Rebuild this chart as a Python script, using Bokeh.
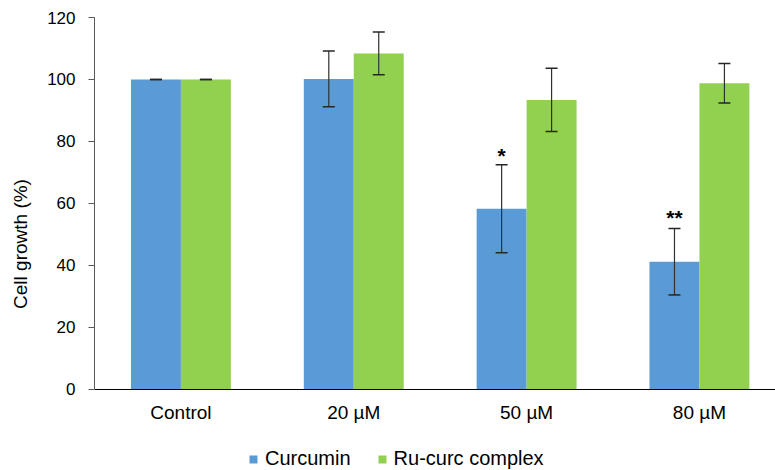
from bokeh.plotting import figure
from bokeh.models import (ColumnDataSource, Whisker, TeeHead, FixedTicker, Range1d,
                          Legend, LegendItem, LinearAxis)
from bokeh.core.properties import value
from bokeh.embed import file_html
from bokeh.resources import INLINE

categories = ["Control", "20 µM", "50 µM", "80 µM"]
curcumin = [100.0, 100.2, 58.3, 41.2]
curcumin_err = [0.0, 9.0, 14.2, 10.7]
rucurc = [100.0, 108.4, 93.4, 98.8]
rucurc_err = [0.0, 6.9, 10.2, 6.4]
sig_labels = ["", "", "*", "**"]
sig_y = [0, 0, 75.5, 55.5]
y_ticks = [0, 20, 40, 60, 80, 100, 120]

FONT = "Liberation Sans"
BLUE = "#5B9BD5"
GREEN = "#92D050"
bw = 0.289
off = bw / 2

idx = list(range(len(categories)))
src_c = ColumnDataSource(dict(
    x=[i - off for i in idx], top=curcumin,
    upper=[v + e for v, e in zip(curcumin, curcumin_err)],
    lower=[v - e for v, e in zip(curcumin, curcumin_err)]))
src_r = ColumnDataSource(dict(
    x=[i + off for i in idx], top=rucurc,
    upper=[v + e for v, e in zip(rucurc, rucurc_err)],
    lower=[v - e for v, e in zip(rucurc, rucurc_err)]))
src_s = ColumnDataSource(dict(x=[i - off for i in idx], y=sig_y, t=sig_labels))

# frame runs to the bottom edge; the x axis is pinned at y = 0
p = figure(width=775, height=470, output_backend="svg", toolbar_location=None,
           x_range=Range1d(-0.5, 3.44), y_range=Range1d(-26.13, 120),
           x_axis_location=None,
           min_border_left=94, min_border_right=0, min_border_top=17,
           min_border_bottom=0)
p.outline_line_color = None
p.xgrid.visible = False
p.ygrid.visible = False
p.background_fill_color = "white"
p.border_fill_color = "white"

r1 = p.vbar(x="x", top="top", width=bw, source=src_c, fill_color=BLUE, line_color=None)
r2 = p.vbar(x="x", top="top", width=bw, source=src_r, fill_color=GREEN, line_color=None)

for s in (src_c, src_r):
    w = Whisker(base="x", upper="upper", lower="lower", source=s, level="overlay",
                line_color="#303030", line_width=1.2,
                upper_head=TeeHead(size=12, line_color="#262626", line_width=1.5),
                lower_head=TeeHead(size=12, line_color="#262626", line_width=1.5))
    p.add_layout(w)

p.text(x="x", y="y", text="t", source=src_s, text_align="center",
       text_baseline="middle", text_font=value(FONT), text_font_size="21px",
       text_font_style="bold", text_color="black")

# y axis
p.yaxis.ticker = FixedTicker(ticks=y_ticks)
p.yaxis.bounds = (0, 120)
p.yaxis.axis_label = "Cell growth (%)"
p.yaxis.axis_label_text_font = FONT
p.yaxis.axis_label_text_font_size = "19px"
p.yaxis.axis_label_text_font_style = "normal"
p.yaxis.axis_label_text_color = "black"
p.yaxis.axis_label_standoff = 13
p.yaxis.major_label_text_font = FONT
p.yaxis.major_label_text_font_size = "17px"
p.yaxis.major_label_text_color = "black"
p.yaxis.major_label_standoff = 13
p.yaxis.major_tick_out = 6
p.yaxis.major_tick_in = 0
p.yaxis.minor_tick_line_color = None
p.yaxis.axis_line_color = "#595959"
p.yaxis.major_tick_line_color = "#595959"

# x axis pinned at y = 0
xax = LinearAxis(fixed_location=0)
xax.ticker = FixedTicker(ticks=idx)
xax.major_label_overrides = {i: c for i, c in zip(idx, categories)}
xax.major_label_text_font = FONT
xax.major_label_text_font_size = "19px"
xax.major_label_text_color = "black"
xax.major_label_standoff = 13
xax.major_tick_out = 0
xax.major_tick_in = 0
xax.minor_tick_line_color = None
xax.axis_line_color = "black"
p.add_layout(xax, "below")

legend = Legend(items=[LegendItem(label="Curcumin", renderers=[r1]),
                       LegendItem(label="Ru-curc complex", renderers=[r2])],
                orientation="horizontal", location=(154, 0),
                glyph_width=10, glyph_height=10, label_standoff=7, spacing=26,
                label_text_font=FONT, label_text_font_size="20px",
                label_text_color="black", border_line_color=None,
                background_fill_alpha=0, padding=0, margin=0)
p.add_layout(legend, "center")

open("out.html", "w").write(file_html(p, INLINE))
